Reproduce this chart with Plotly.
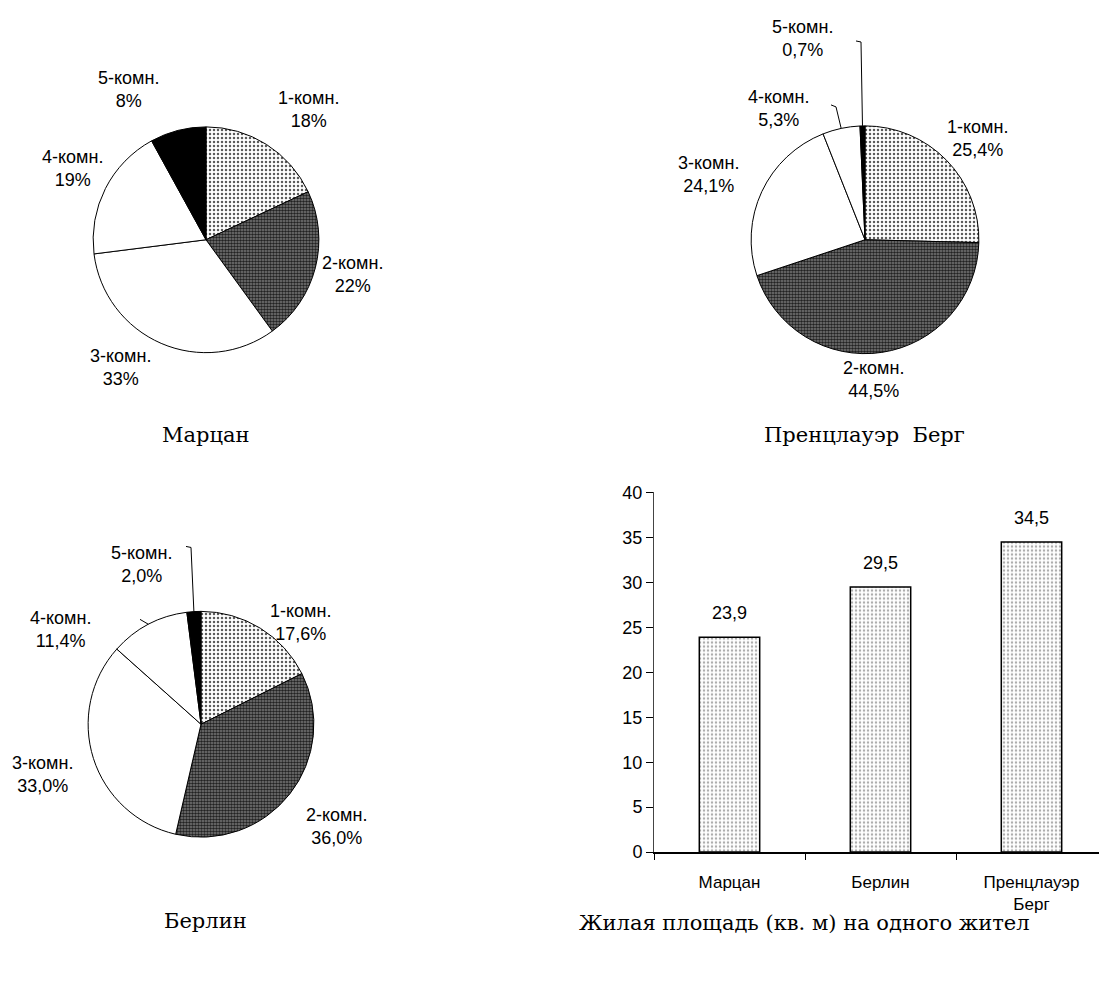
import math
import plotly.graph_objects as go

# ---------------- data ----------------
room_labels = ["1-комн.", "2-комн.", "3-комн.", "4-комн.", "5-комн."]
marzahn_values = [18, 22, 33, 19, 8]
prenzlauer_values = [25.4, 44.5, 24.1, 5.3, 0.7]
berlin_values = [17.6, 36.0, 33.0, 11.4, 2.0]
pie_titles = ["Марцан", "Пренцлауэр  Берг", "Берлин"]

bar_categories = ["Марцан", "Берлин", "Пренцлауэр<br>Берг"]
bar_values = [23.9, 29.5, 34.5]
bar_title = "Жилая площадь (кв. м) на одного жител"

# ---------------- layout helpers ----------------
# observed placement of the plot area inside the screenshot
X0, X1 = 8, 1099
Y0, Y1 = 18, 965


def px(x):
    return min(1.0, max(0.0, (x - X0) / (X1 - X0)))


def py(y):
    return min(1.0, max(0.0, 1 - (y - Y0) / (Y1 - Y0)))


SANS = "Liberation Sans, Arial, sans-serif"
SERIF = "DejaVu Serif, Liberation Serif, serif"

slice_patterns = [
    dict(shape=".", fgcolor="#5a5a5a", bgcolor="white", size=4, solidity=0.3),
    dict(shape=".", fgcolor="#222222", bgcolor="#7a7a7a", size=3, solidity=0.55),
    dict(shape="", fgcolor="white", bgcolor="white"),
    dict(shape="", fgcolor="white", bgcolor="white"),
    dict(shape="", fgcolor="black", bgcolor="black"),
]
slice_colors = ["white", "#5f5f5f", "white", "white", "black"]

pies = [
    dict(values=marzahn_values, cx=206, cy=240, r=113, dec=0,
         label_pos=[(308, 110), (352, 275), (120, 368), (72, 169), (128, 90)],
         leaders={}, title_pos=(206, 435)),
    dict(values=prenzlauer_values, cx=865, cy=240, r=114, dec=1,
         label_pos=[(977, 139), (873, 380), (708, 175), (778, 109), (802, 39)],
         leaders={3: [(836, 107), (831, 105)], 4: [(861, 42), (856, 41)]},
         title_pos=(864, 435)),
    dict(values=berlin_values, cx=201, cy=725, r=113, dec=1,
         label_pos=[(300, 623), (336, 827), (42, 775), (60, 630), (141, 565)],
         leaders={3: [(140, 620)], 4: [(191, 548), (186, 547)]},
         title_pos=(205, 922)),
]


def fmt(v, dec):
    s = f"{v:.{dec}f}".replace(".", ",")
    return s + "%"


fig = go.Figure()
annotations = []
shapes = []

for p in pies:
    cx, cy, r = p["cx"], p["cy"], p["r"]
    fig.add_trace(go.Pie(
        labels=room_labels,
        values=p["values"],
        sort=False,
        direction="clockwise",
        rotation=0,
        textinfo="none",
        hoverinfo="label+value",
        showlegend=False,
        marker=dict(colors=slice_colors,
                    line=dict(color="black", width=1),
                    pattern=dict(
                        shape=[s["shape"] for s in slice_patterns],
                        fgcolor=[s["fgcolor"] for s in slice_patterns],
                        bgcolor=[s["bgcolor"] for s in slice_patterns],
                        size=[s.get("size", 4) for s in slice_patterns],
                        solidity=[s.get("solidity", 0.3) for s in slice_patterns],
                    )),
        domain=dict(x=[px(cx - r), px(cx + r)], y=[py(cy + r), py(cy - r)]),
    ))
    total = sum(p["values"])
    cum = 0
    for i, (lab, v) in enumerate(zip(room_labels, p["values"])):
        mid = (cum + v / 2) / total * 2 * math.pi
        cum += v
        lx, ly = p["label_pos"][i]
        annotations.append(dict(
            x=px(lx), y=py(ly), xref="paper", yref="paper",
            text=f"{lab}<br>{fmt(v, p['dec'])}", showarrow=False,
            xanchor="center", yanchor="middle", align="center",
            font=dict(family=SANS, size=18, color="black")))
        if i in p["leaders"]:
            ex = cx + r * math.sin(mid)
            ey = cy - r * math.cos(mid)
            pts = [(ex, ey)] + p["leaders"][i]
            path = "M " + " L ".join(f"{px(a)} {py(b)}" for a, b in pts)
            shapes.append(dict(type="path", path=path, xref="paper", yref="paper",
                               line=dict(color="black", width=1)))

for p, t in zip(pies, pie_titles):
    tx, ty = p["title_pos"]
    annotations.append(dict(x=px(tx), y=py(ty), xref="paper", yref="paper",
                            text=t, showarrow=False, xanchor="center", yanchor="middle",
                            font=dict(family=SERIF, size=21, color="black")))

# ---------------- bar chart ----------------
fig.add_trace(go.Bar(
    x=bar_categories, y=bar_values, xaxis="x", yaxis="y",
    showlegend=False,
    marker=dict(color="white", line=dict(color="black", width=1.5),
                pattern=dict(shape=".", fgcolor="#5a5a5a", bgcolor="white",
                             size=4, solidity=0.3)),
))
for c, v in zip(bar_categories, bar_values):
    annotations.append(dict(x=c, y=v, xref="x", yref="y",
                            text=f"{v:.1f}".replace(".", ","), showarrow=False,
                            xanchor="center", yanchor="middle", yshift=24,
                            font=dict(family=SANS, size=18, color="black")))

annotations.append(dict(x=px(577), y=py(924), xref="paper", yref="paper",
                        text=bar_title, showarrow=False, xanchor="left", yanchor="middle",
                        font=dict(family=SERIF, size=21, color="black")))

fig.update_layout(
    autosize=True,
    margin=dict(l=0, r=0, t=0, b=0, pad=0),
    paper_bgcolor="white", plot_bgcolor="white",
    separators=", ",
    bargap=0.6,
    xaxis=dict(domain=[px(654), 1.0], range=[-0.5, 2.5 - (1107 - X1) / 151],
               type="category",
               showline=True, linecolor="black", linewidth=1.5,
               ticks="outside", tickson="boundaries", ticklen=6, tickcolor="black",
               showgrid=False, zeroline=False, ticklabelstandoff=14,
               tickfont=dict(family=SANS, size=17, color="black")),
    yaxis=dict(domain=[py(853), py(493)], range=[0, 40], dtick=5,
               showline=True, linecolor="#444", linewidth=1,
               ticks="outside", ticklen=7, tickcolor="black",
               showgrid=False, zeroline=False,
               tickfont=dict(family=SANS, size=18, color="black")),
    annotations=annotations,
    shapes=shapes,
)

fig.write_html("out.html", include_plotlyjs=True, full_html=True,
               default_width="calc(100vw - 16px)", default_height="calc(100vh - 16px)",
               config={"displayModeBar": False})
